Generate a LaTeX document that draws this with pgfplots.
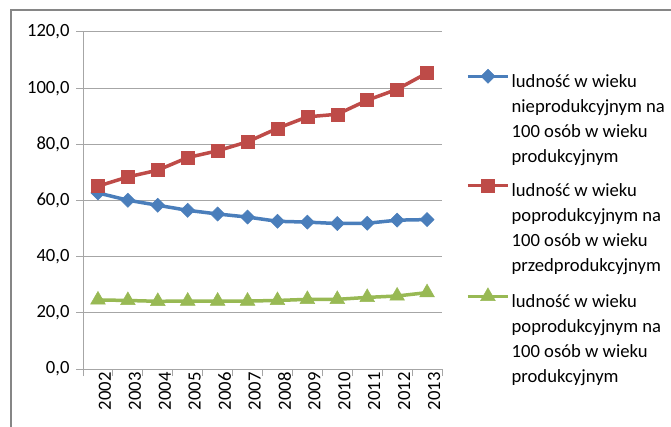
\documentclass[border=0pt]{standalone}
\usepackage{pgfplots}
\pgfplotsset{compat=1.18}
\usepackage{fontspec}
\setmainfont{Carlito}
\definecolor{sblue}{HTML}{4A7EBB}
\definecolor{sred}{HTML}{BE4B48}
\definecolor{sgreen}{HTML}{98B954}
\definecolor{gridc}{HTML}{A6A6A6}
\definecolor{framec}{HTML}{868686}
\newcommand{\cf}{\fontsize{18.7}{25}\selectfont}
\begin{document}
\begin{tikzpicture}[x=1bp,y=1bp]
\useasboundingbox (0,0) rectangle (671,426);
\clip (0,0) rectangle (671,426);
\fill[white] (0,0) rectangle (671,426);
\draw[framec, line width=2bp] (11,-5) -- (11,416) -- (680,416);
\begin{axis}[
  at={(83bp,57bp)}, anchor=south west,
  scale only axis, width=359bp, height=337bp,
  xmin=-0.5, xmax=11.5, ymin=0, ymax=120,
  axis lines=left, axis line style={-, gridc, line width=1bp},
  tick align=outside,
  ytick={0,20,...,120},
  major tick length=7bp,
  tick style={gridc, line width=1bp},
  ymajorgrids, grid style={gridc, line width=1bp},
  xtick={-0.5,0.5,...,11.5}, xticklabels={},
  extra x ticks={0,...,11},
  extra x tick labels={2002,2003,2004,2005,2006,2007,2008,2009,2010,2011,2012,2013},
  extra x tick style={major tick length=0pt, grid=none},
  x tick label style={rotate=90, anchor=east, yshift=-7bp, font=\cf},
  y tick label style={font=\cf, xshift=-3bp},
  yticklabel style={/pgf/number format/.cd, fixed, fixed zerofill, precision=1, use comma, assume math mode=true},
  legend cell align=left,
  legend style={at={(1,1)}, anchor=north west, xshift=21bp, yshift=-35bp,
    draw=none, fill=none, row sep=13bp, font=\cf,
    nodes={align=left}},
  legend image code/.code={\draw[mark repeat=2,mark phase=2,#1] plot coordinates {(0bp,43bp) (20bp,43bp) (40bp,43bp)};},
]
\addplot[sblue, line width=3.5bp, mark=square*, mark size=5bp, mark options={rotate=45, solid, fill=sblue, line width=0.5bp}]
  coordinates {(0,62.7) (1,60.1) (2,58.3) (3,56.5) (4,55.2) (5,54.1) (6,52.6) (7,52.3) (8,51.8) (9,51.9) (10,53.0) (11,53.2)};
\addlegendentry{ludność w wieku\\nieprodukcyjnym na\\100 osób w wieku\\produkcyjnym}
\addplot[sred, line width=3.5bp, mark=square*, mark size=6.5bp, mark options={solid, fill=sred, line width=0.5bp}]
  coordinates {(0,65.1) (1,68.4) (2,70.8) (3,75.3) (4,77.7) (5,80.9) (6,85.7) (7,89.8) (8,90.7) (9,95.7) (10,99.6) (11,105.4)};
\addlegendentry{ludność w wieku\\poprodukcyjnym na\\100 osób w wieku\\przedprodukcyjnym}
\addplot[sgreen, line width=3.5bp, mark=triangle*, mark size=8.5bp, mark options={solid, fill=sgreen, line width=0.5bp}]
  coordinates {(0,24.6) (1,24.4) (2,24.1) (3,24.2) (4,24.2) (5,24.2) (6,24.4) (7,24.8) (8,24.8) (9,25.5) (10,26.0) (11,27.2)};
\addlegendentry{ludność w wieku\\poprodukcyjnym na\\100 osób w wieku\\produkcyjnym}
\end{axis}
\end{tikzpicture}
\end{document}
